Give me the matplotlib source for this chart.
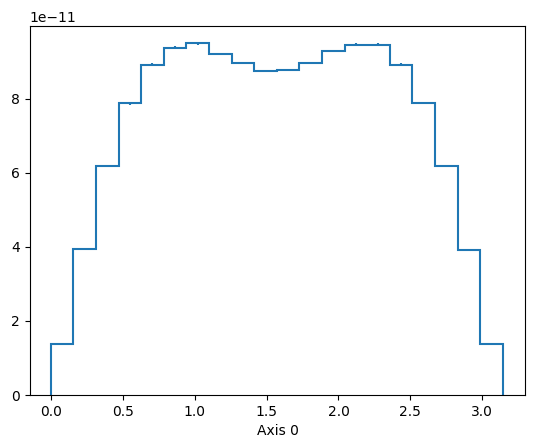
import numpy as np
import matplotlib
matplotlib.use("Agg")
import matplotlib.pyplot as plt

# histogram values (x 1e-11), 20 bins from 0 to pi
edges = np.linspace(0, np.pi, 21)
values = np.array([1.38, 3.94, 6.19, 7.87, 8.92, 9.38, 9.49, 9.21, 8.97, 8.75,
                   8.78, 8.97, 9.29, 9.46, 9.46, 8.92, 7.88, 6.17, 3.92, 1.38]) * 1e-11
errors = np.array([0.01, 0.02, 0.02, 0.03, 0.03, 0.03, 0.03, 0.03, 0.03, 0.03,
                   0.03, 0.03, 0.03, 0.03, 0.03, 0.03, 0.03, 0.02, 0.02, 0.01]) * 1e-11

fig = plt.figure(figsize=(5.34, 4.48), dpi=100)
ax = fig.add_axes([0.0556, 0.1183, 0.928, 0.8243])

centers = 0.5 * (edges[1:] + edges[:-1])
ax.stairs(values, edges, color='C0', linewidth=1.5, baseline=0)
ax.errorbar(centers, values, yerr=errors, fmt='none', color='C0', linewidth=1.5)

ax.set_xlim(-0.146, 3.298)
ax.set_ylim(0, 9.97e-11)
ax.set_xlabel('Axis 0')

fig.savefig('out.png', dpi=100)
